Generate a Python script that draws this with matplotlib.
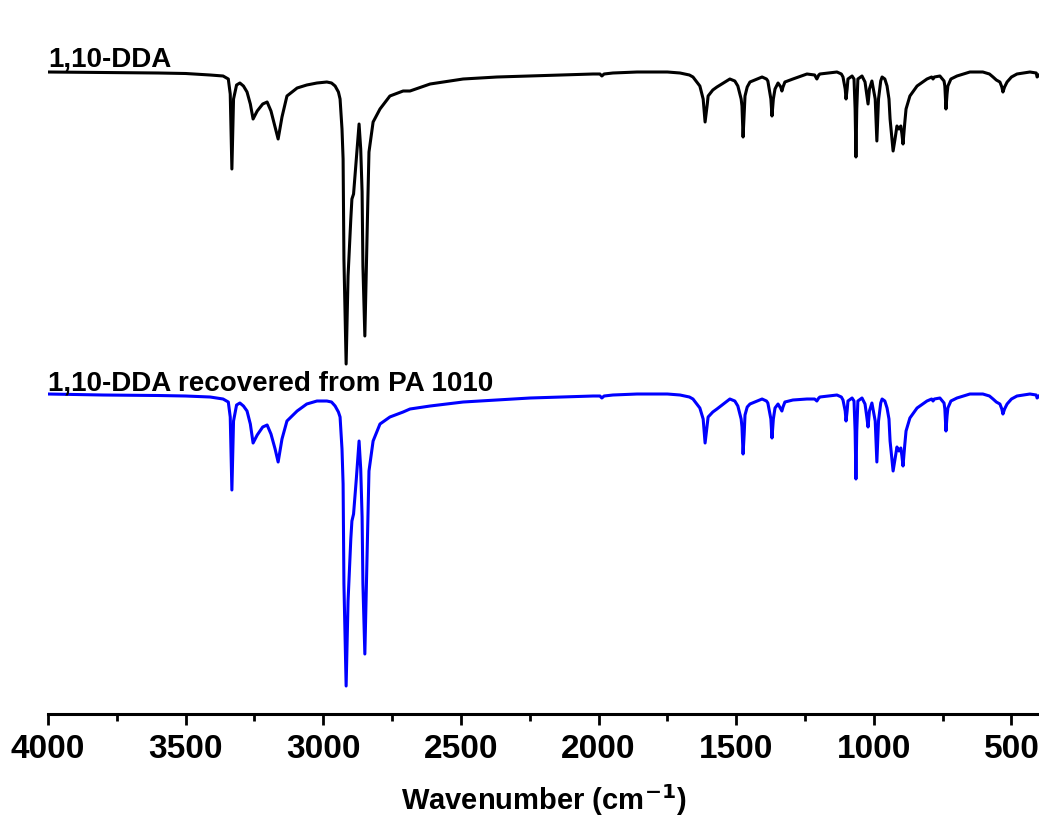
import numpy as np
import matplotlib
matplotlib.use("Agg")
import matplotlib.pyplot as plt
from matplotlib.ticker import MultipleLocator

plt.rcParams['font.family'] = ['Liberation Sans', 'DejaVu Sans']
plt.rcParams['font.weight'] = 'bold'

# wavenumber (cm-1) and transmittance (a.u., offset)
wavenumber = [4000, 3800, 3600, 3500, 3411, 3364, 3345, 3338, 3332, 3326, 3315, 3303, 3290, 3277,
              3265, 3255, 3240, 3220, 3204, 3190, 3175, 3164, 3150, 3132, 3095, 3060, 3023, 2987,
              2970, 2957, 2945, 2939, 2932, 2928, 2925, 2917, 2910, 2900, 2896, 2890, 2880, 2870,
              2864, 2859, 2856, 2849, 2843, 2838, 2834, 2819, 2794, 2758, 2710, 2685, 2612, 2492,
              2369, 2249, 2129, 2020, 1995, 1988, 1980, 1948, 1860, 1750, 1704, 1670, 1657, 1632,
              1620, 1613, 1605, 1602, 1585, 1570, 1523, 1505, 1494, 1482, 1479, 1475, 1471, 1468,
              1460, 1450, 1406, 1390, 1385, 1374, 1370, 1365, 1359, 1348, 1338, 1334, 1330, 1323,
              1294, 1243, 1215, 1207, 1200, 1196, 1134, 1118, 1112, 1104, 1101, 1097, 1094, 1079,
              1072, 1068, 1065, 1062, 1058, 1043, 1032, 1026, 1021, 1016, 1007, 995, 989, 983,
              975, 970, 960, 952, 945, 941, 930, 923, 916, 909, 902, 898, 894, 888,
              883, 869, 843, 807, 790, 785, 780, 760, 745, 742, 738, 734, 731, 720,
              698, 651, 604, 580, 567, 555, 542, 535, 531, 525, 516, 500, 480, 433,
              410, 407, 400]

dda = [64.2, 64.15, 64.1, 64.05, 63.9, 63.8, 63.5, 62.0, 54.5, 61.5, 62.9, 63.1, 62.8, 62.2,
       61.0, 59.5, 60.3, 61.0, 61.2, 60.3, 58.7, 57.5, 59.7, 61.8, 62.6, 62.9, 63.1, 63.2,
       63.1, 62.8, 62.2, 61.5, 58.5, 55.5, 45.5, 35.0, 43.8, 49.5, 51.5, 52.0, 55.5, 59.0,
       56.5, 52.2, 44.8, 37.8, 45.5, 51.5, 56.2, 59.2, 60.5, 61.8, 62.3, 62.3, 63.0, 63.5,
       63.7, 63.8, 63.9, 64.0, 64.0, 63.8, 64.0, 64.1, 64.2, 64.2, 64.1, 63.9, 63.7, 62.8,
       61.5, 59.2, 61.0, 61.8, 62.4, 62.7, 63.5, 63.3, 62.8, 61.5, 60.8, 57.7, 60.0, 61.8,
       62.7, 63.2, 63.7, 63.5, 63.3, 61.5, 59.8, 61.5, 62.5, 63.1, 62.7, 62.3, 62.7, 63.2,
       63.5, 64.0, 63.9, 63.5, 63.9, 64.0, 64.2, 64.0, 63.7, 62.5, 61.5, 62.5, 63.5, 63.8,
       63.5, 60.5, 55.7, 60.5, 63.5, 63.8, 63.2, 62.0, 61.0, 62.5, 63.3, 61.5, 57.3, 61.5,
       63.3, 63.7, 63.5, 62.8, 61.5, 59.5, 56.3, 57.5, 58.8, 58.5, 58.8, 58.0, 57.0, 59.0,
       60.5, 61.8, 62.8, 63.5, 63.7, 63.5, 63.7, 63.8, 63.3, 62.8, 60.5, 62.0, 62.8, 63.5,
       63.8, 64.2, 64.2, 64.0, 63.7, 63.4, 63.2, 62.7, 62.2, 62.7, 63.2, 63.7, 64.0, 64.2,
       64.1, 63.7, 63.9]

dda_recovered = [32.0, 31.9, 31.85, 31.8, 31.7, 31.5, 31.2, 29.7, 22.4, 29.3, 30.9, 31.1, 30.8, 30.3,
                 29.0, 27.1, 27.9, 28.7, 28.9, 28.0, 26.5, 25.2, 27.5, 29.3, 30.3, 31.0, 31.3, 31.3,
                 31.2, 30.8, 30.2, 29.7, 26.5, 23.0, 13.0, 2.8, 11.3, 17.5, 19.3, 20.0, 23.5, 27.3,
                 24.5, 19.7, 13.0, 6.0, 13.5, 19.5, 24.3, 27.3, 29.0, 29.7, 30.2, 30.5, 30.8, 31.2,
                 31.4, 31.6, 31.7, 31.8, 31.8, 31.6, 31.8, 31.9, 32.0, 32.0, 31.9, 31.7, 31.5, 30.6,
                 29.5, 27.1, 29.0, 29.7, 30.2, 30.5, 31.5, 31.3, 30.8, 29.5, 28.7, 26.0, 28.0, 29.9,
                 30.7, 31.0, 31.5, 31.3, 31.1, 29.5, 27.6, 29.5, 30.6, 31.0, 30.5, 30.3, 30.7, 31.2,
                 31.4, 31.5, 31.5, 31.3, 31.6, 31.7, 31.9, 31.7, 31.4, 30.3, 29.3, 30.3, 31.3, 31.6,
                 31.3, 28.3, 23.5, 28.3, 31.3, 31.6, 31.0, 29.8, 28.7, 30.3, 31.1, 29.3, 25.2, 29.3,
                 31.1, 31.5, 31.3, 30.6, 29.5, 27.3, 24.3, 25.5, 26.7, 26.3, 26.6, 25.8, 24.8, 26.8,
                 28.3, 29.6, 30.6, 31.3, 31.5, 31.3, 31.5, 31.6, 31.1, 30.5, 28.3, 29.8, 30.6, 31.3,
                 31.6, 32.0, 32.0, 31.8, 31.5, 31.2, 31.0, 30.5, 30.0, 30.5, 31.0, 31.5, 31.8, 32.0,
                 31.9, 31.6, 31.8]

labels = ["1,10-DDA", "1,10-DDA recovered from PA 1010"]
colors = ["black", "#0000ff"]
label_gap = [0.7, 0.5]

fig = plt.figure(figsize=(10.39, 8.29), dpi=100)
ax = fig.add_axes([0.0462, 0.1375, 0.9538, 0.8625])

for y, lab, c, g in zip([dda, dda_recovered], labels, colors, label_gap):
    ax.plot(wavenumber, y, color=c, lw=2.2, solid_joinstyle='round')
    ax.text(4000, max(y) + g, lab, fontsize=20, fontweight='bold', ha='left', va='baseline')

ax.set_xlim(4000, 400)
ax.set_ylim(0, 71.5)
for s in ['top', 'right', 'left']:
    ax.spines[s].set_visible(False)
ax.spines['bottom'].set_linewidth(2.2)
ax.set_yticks([])
ax.xaxis.set_major_locator(MultipleLocator(500))
ax.xaxis.set_minor_locator(MultipleLocator(250))
ax.tick_params(axis='x', which='major', direction='out', length=8, width=2, labelsize=24, pad=6)
ax.tick_params(axis='x', which='minor', direction='out', length=5, width=2)
for t in ax.get_xticklabels():
    t.set_fontweight('bold')
ax.set_xlabel("Wavenumber (cm$^{\\mathbf{-1}}$)", fontsize=21, fontweight='bold', labelpad=12)

fig.savefig("out.png", dpi=100)
